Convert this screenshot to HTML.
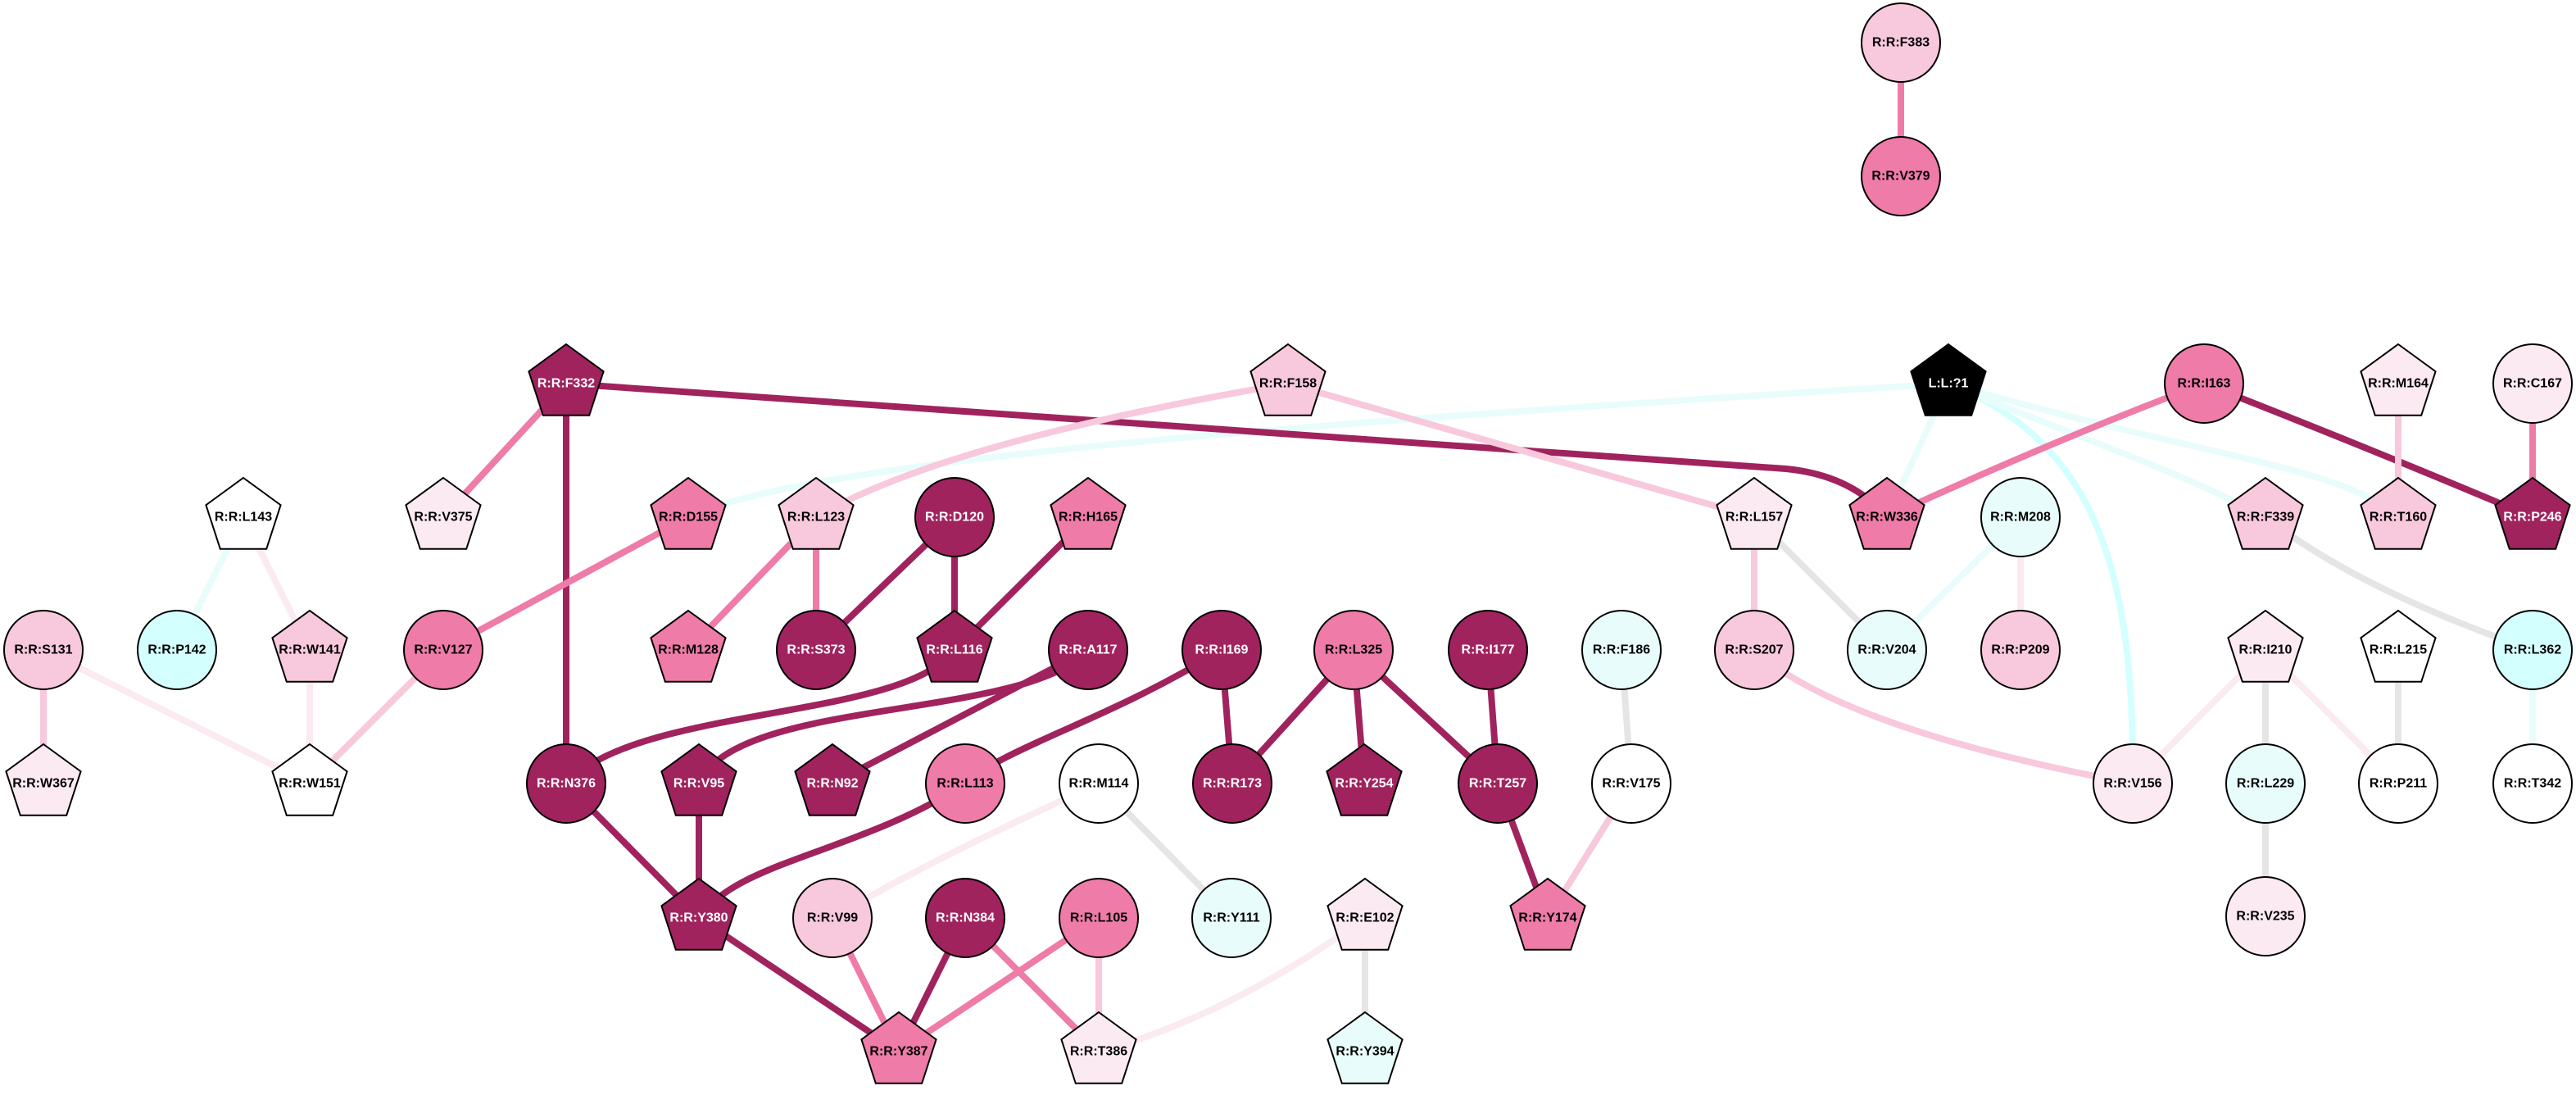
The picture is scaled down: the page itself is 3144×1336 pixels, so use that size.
<!DOCTYPE html>
<html><head><meta charset="utf-8"><style>
html,body{margin:0;padding:0;background:#fff;}
svg{display:block;}
text{font-family:"Liberation Sans",Arial,sans-serif;font-weight:bold;font-size:16px;text-anchor:middle;dominant-baseline:central;}
.w{fill:#fff;} .b{fill:#000;}
.e{fill:none;stroke-width:8;}
</style></head><body>
<svg width="3144" height="1336" viewBox="0 0 3144 1336" xmlns="http://www.w3.org/2000/svg">
<defs>
<polygon id="p" points="0,-48 45.6,-14.8 28.2,38.8 -28.2,38.8 -45.6,-14.8" stroke="#000" stroke-width="2"/>
</defs>
<!-- edges -->
<g class="edges">
<path class="e" stroke="#EF7BA8" d="M2320,52 L2320,215"/>
<!-- cyan from ligand -->
<path class="e" stroke="#E8FDFB" d="M2378,468 C1700,510 1000,555 840,631"/>
<path class="e" stroke="#E8FDFB" d="M2378,468 L2303,631"/>
<path class="e" stroke="#D4FFFF" d="M2378,468 C2560,540 2605,700 2603,956"/>
<path class="e" stroke="#E8FDFB" d="M2378,468 C2550,540 2650,570 2765,631"/>
<path class="e" stroke="#E8FDFB" d="M2378,468 C2700,560 2860,570 2927,631"/>
<path class="e" stroke="#A0235E" stroke-width="10" d="M691,468 L2180,572 Q2260,580 2303,631"/>
<path class="e" stroke="#EF7BA8" d="M691,468 L541,631"/>
<path class="e" stroke="#A0235E" d="M691,468 L691,956"/>
<path class="e" stroke="#F8C8DC" d="M1572,468 Q1150,540 996,631"/>
<path class="e" stroke="#F8C8DC" d="M1572,468 L2141,631"/>
<path class="e" stroke="#EF7BA8" d="M2690,468 Q2500,540 2303,631"/>
<path class="e" stroke="#A0235E" stroke-width="10" d="M2690,468 Q2900,550 3091,631"/>
<path class="e" stroke="#F8C8DC" d="M2927,468 L2927,631"/>
<path class="e" stroke="#EF7BA8" d="M3091,468 L3091,631"/>
<path class="e" stroke="#E8FDFB" d="M297,631 L216,793"/>
<path class="e" stroke="#FBEAF2" d="M297,631 L378,793"/>
<path class="e" stroke="#EF7BA8" d="M840,631 L541,793"/>
<path class="e" stroke="#EF7BA8" d="M996,631 L840,793"/>
<path class="e" stroke="#EF7BA8" d="M996,631 L996,793"/>
<path class="e" stroke="#A0235E" d="M1165,631 L996,793"/>
<path class="e" stroke="#A0235E" d="M1165,631 L1165,793"/>
<path class="e" stroke="#A0235E" d="M1328,631 L1165,793"/>
<path class="e" stroke="#F8C8DC" d="M2141,631 L2141,793"/>
<path class="e" stroke="#E5E5E5" d="M2141,631 L2303,793"/>
<path class="e" stroke="#E8FDFB" d="M2466,631 L2303,793"/>
<path class="e" stroke="#FBEAF2" d="M2466,631 L2466,793"/>
<path class="e" stroke="#E5E5E5" d="M2765,631 Q2880,720 3091,793"/>
<path class="e" stroke="#F8C8DC" d="M53,793 L53,956"/>
<path class="e" stroke="#FBEAF2" d="M53,793 L378,956"/>
<path class="e" stroke="#FBEAF2" d="M378,793 L378,956"/>
<path class="e" stroke="#F8C8DC" d="M541,793 L378,956"/>
<path class="e" stroke="#A0235E" stroke-width="10" d="M1165,793 C1100,880 780,860 691,956"/>
<path class="e" stroke="#A0235E" stroke-width="10" d="M1328,793 C1250,880 900,850 853,956"/>
<path class="e" stroke="#A0235E" d="M1328,793 L1016,956"/>
<path class="e" stroke="#A0235E" stroke-width="10" d="M1491,793 C1350,880 1230,910 1178,956 C1050,1040 900,1050 853,1120"/>
<path class="e" stroke="#A0235E" d="M1491,793 L1504,956"/>
<path class="e" stroke="#A0235E" d="M1652,793 L1504,956"/>
<path class="e" stroke="#A0235E" d="M1652,793 L1665,956"/>
<path class="e" stroke="#A0235E" d="M1652,793 L1828,956"/>
<path class="e" stroke="#A0235E" d="M1816,793 L1828,956"/>
<path class="e" stroke="#E5E5E5" d="M1979,793 L1991,956"/>
<path class="e" stroke="#F8C8DC" d="M1991,956 L1889,1120"/>
<path class="e" stroke="#A0235E" d="M1828,956 L1889,1120"/>
<path class="e" stroke="#F8C8DC" d="M2141,793 Q2250,890 2603,956"/>
<path class="e" stroke="#FBEAF2" d="M2765,793 L2603,956"/>
<path class="e" stroke="#E5E5E5" d="M2765,793 L2765,956"/>
<path class="e" stroke="#FBEAF2" d="M2765,793 L2927,956"/>
<path class="e" stroke="#E5E5E5" d="M2927,793 L2927,956"/>
<path class="e" stroke="#E8FDFB" d="M3091,793 L3091,956"/>
<path class="e" stroke="#E5E5E5" d="M2765,956 L2765,1118"/>
<path class="e" stroke="#A0235E" d="M691,956 L853,1120"/>
<path class="e" stroke="#A0235E" d="M853,956 L853,1120"/>
<path class="e" stroke="#A0235E" d="M853,1120 L1097,1283"/>
<path class="e" stroke="#FBEAF2" d="M1341,956 C1200,1020 1100,1070 1016,1120"/>
<path class="e" stroke="#E5E5E5" d="M1341,956 L1503,1120"/>
<path class="e" stroke="#EF7BA8" d="M1016,1120 L1097,1283"/>
<path class="e" stroke="#A0235E" d="M1178,1120 L1097,1283"/>
<path class="e" stroke="#EF7BA8" d="M1341,1120 L1097,1283"/>
<path class="e" stroke="#EF7BA8" d="M1178,1120 L1341,1283"/>
<path class="e" stroke="#F8C8DC" d="M1341,1120 L1341,1283"/>
<path class="e" stroke="#FBEAF2" d="M1666,1120 Q1500,1240 1341,1283"/>
<path class="e" stroke="#E5E5E5" d="M1666,1120 L1666,1283"/>
</g>
<!-- nodes -->
<g stroke="#000" stroke-width="2">
<circle cx="2320" cy="52" r="48" fill="#F8C8DC"/>
<circle cx="2320" cy="215" r="48" fill="#EF7BA8"/>
<use href="#p" x="691" y="468" fill="#A0235E"/>
<use href="#p" x="1572" y="468" fill="#F8C8DC"/>
<use href="#p" x="2378" y="468" fill="#000"/>
<circle cx="2690" cy="468" r="48" fill="#EF7BA8"/>
<use href="#p" x="2927" y="468" fill="#FBEAF2"/>
<circle cx="3091" cy="468" r="48" fill="#FBEAF2"/>
<use href="#p" x="297" y="631" fill="#FFFFFF"/>
<use href="#p" x="541" y="631" fill="#FBEAF2"/>
<use href="#p" x="840" y="631" fill="#EF7BA8"/>
<use href="#p" x="996" y="631" fill="#F8C8DC"/>
<circle cx="1165" cy="631" r="48" fill="#A0235E"/>
<use href="#p" x="1328" y="631" fill="#EF7BA8"/>
<use href="#p" x="2141" y="631" fill="#FBEAF2"/>
<use href="#p" x="2303" y="631" fill="#EF7BA8"/>
<circle cx="2466" cy="631" r="48" fill="#E8FDFB"/>
<use href="#p" x="2765" y="631" fill="#F8C8DC"/>
<use href="#p" x="2927" y="631" fill="#F8C8DC"/>
<use href="#p" x="3091" y="631" fill="#A0235E"/>
<circle cx="53" cy="793" r="48" fill="#F8C8DC"/>
<circle cx="216" cy="793" r="48" fill="#D4FFFF"/>
<use href="#p" x="378" y="793" fill="#F8C8DC"/>
<circle cx="541" cy="793" r="48" fill="#EF7BA8"/>
<use href="#p" x="840" y="793" fill="#EF7BA8"/>
<circle cx="996" cy="793" r="48" fill="#A0235E"/>
<use href="#p" x="1165" y="793" fill="#A0235E"/>
<circle cx="1328" cy="793" r="48" fill="#A0235E"/>
<circle cx="1491" cy="793" r="48" fill="#A0235E"/>
<circle cx="1652" cy="793" r="48" fill="#EF7BA8"/>
<circle cx="1816" cy="793" r="48" fill="#A0235E"/>
<circle cx="1979" cy="793" r="48" fill="#E8FDFB"/>
<circle cx="2141" cy="793" r="48" fill="#F8C8DC"/>
<circle cx="2303" cy="793" r="48" fill="#E8FDFB"/>
<circle cx="2466" cy="793" r="48" fill="#F8C8DC"/>
<use href="#p" x="2765" y="793" fill="#FBEAF2"/>
<use href="#p" x="2927" y="793" fill="#FFFFFF"/>
<circle cx="3091" cy="793" r="48" fill="#D4FFFF"/>
<use href="#p" x="53" y="956" fill="#FBEAF2"/>
<use href="#p" x="378" y="956" fill="#FFFFFF"/>
<circle cx="691" cy="956" r="48" fill="#A0235E"/>
<use href="#p" x="853" y="956" fill="#A0235E"/>
<use href="#p" x="1016" y="956" fill="#A0235E"/>
<circle cx="1178" cy="956" r="48" fill="#EF7BA8"/>
<circle cx="1341" cy="956" r="48" fill="#FFFFFF"/>
<circle cx="1504" cy="956" r="48" fill="#A0235E"/>
<use href="#p" x="1665" y="956" fill="#A0235E"/>
<circle cx="1828" cy="956" r="48" fill="#A0235E"/>
<circle cx="1991" cy="956" r="48" fill="#FFFFFF"/>
<circle cx="2603" cy="956" r="48" fill="#FBEAF2"/>
<circle cx="2765" cy="956" r="48" fill="#E8FDFB"/>
<circle cx="2927" cy="956" r="48" fill="#FFFFFF"/>
<circle cx="3091" cy="956" r="48" fill="#FFFFFF"/>
<use href="#p" x="853" y="1120" fill="#A0235E"/>
<circle cx="1016" cy="1120" r="48" fill="#F8C8DC"/>
<circle cx="1178" cy="1120" r="48" fill="#A0235E"/>
<circle cx="1341" cy="1120" r="48" fill="#EF7BA8"/>
<circle cx="1503" cy="1120" r="48" fill="#E8FDFB"/>
<use href="#p" x="1666" y="1120" fill="#FBEAF2"/>
<use href="#p" x="1889" y="1120" fill="#EF7BA8"/>
<circle cx="2765" cy="1118" r="48" fill="#FBEAF2"/>
<use href="#p" x="1097" y="1283" fill="#EF7BA8"/>
<use href="#p" x="1341" y="1283" fill="#FBEAF2"/>
<use href="#p" x="1666" y="1283" fill="#E8FDFB"/>
</g>
<!-- labels -->
<g>
<text class="b" x="2320" y="52">R:R:F383</text>
<text class="b" x="2320" y="215">R:R:V379</text>
<text class="w" x="691" y="468">R:R:F332</text>
<text class="b" x="1572" y="468">R:R:F158</text>
<text class="w" x="2378" y="468">L:L:?1</text>
<text class="b" x="2690" y="468">R:R:I163</text>
<text class="b" x="2927" y="468">R:R:M164</text>
<text class="b" x="3091" y="468">R:R:C167</text>
<text class="b" x="297" y="631">R:R:L143</text>
<text class="b" x="541" y="631">R:R:V375</text>
<text class="b" x="840" y="631">R:R:D155</text>
<text class="b" x="996" y="631">R:R:L123</text>
<text class="w" x="1165" y="631">R:R:D120</text>
<text class="b" x="1328" y="631">R:R:H165</text>
<text class="b" x="2141" y="631">R:R:L157</text>
<text class="b" x="2303" y="631">R:R:W336</text>
<text class="b" x="2466" y="631">R:R:M208</text>
<text class="b" x="2765" y="631">R:R:F339</text>
<text class="b" x="2927" y="631">R:R:T160</text>
<text class="w" x="3091" y="631">R:R:P246</text>
<text class="b" x="53" y="793">R:R:S131</text>
<text class="b" x="216" y="793">R:R:P142</text>
<text class="b" x="378" y="793">R:R:W141</text>
<text class="b" x="541" y="793">R:R:V127</text>
<text class="b" x="840" y="793">R:R:M128</text>
<text class="w" x="996" y="793">R:R:S373</text>
<text class="w" x="1165" y="793">R:R:L116</text>
<text class="w" x="1328" y="793">R:R:A117</text>
<text class="w" x="1491" y="793">R:R:I169</text>
<text class="b" x="1652" y="793">R:R:L325</text>
<text class="w" x="1816" y="793">R:R:I177</text>
<text class="b" x="1979" y="793">R:R:F186</text>
<text class="b" x="2141" y="793">R:R:S207</text>
<text class="b" x="2303" y="793">R:R:V204</text>
<text class="b" x="2466" y="793">R:R:P209</text>
<text class="b" x="2765" y="793">R:R:I210</text>
<text class="b" x="2927" y="793">R:R:L215</text>
<text class="b" x="3091" y="793">R:R:L362</text>
<text class="b" x="53" y="956">R:R:W367</text>
<text class="b" x="378" y="956">R:R:W151</text>
<text class="w" x="691" y="956">R:R:N376</text>
<text class="w" x="853" y="956">R:R:V95</text>
<text class="w" x="1016" y="956">R:R:N92</text>
<text class="b" x="1178" y="956">R:R:L113</text>
<text class="b" x="1341" y="956">R:R:M114</text>
<text class="w" x="1504" y="956">R:R:R173</text>
<text class="w" x="1665" y="956">R:R:Y254</text>
<text class="w" x="1828" y="956">R:R:T257</text>
<text class="b" x="1991" y="956">R:R:V175</text>
<text class="b" x="2603" y="956">R:R:V156</text>
<text class="b" x="2765" y="956">R:R:L229</text>
<text class="b" x="2927" y="956">R:R:P211</text>
<text class="b" x="3091" y="956">R:R:T342</text>
<text class="w" x="853" y="1120">R:R:Y380</text>
<text class="b" x="1016" y="1120">R:R:V99</text>
<text class="w" x="1178" y="1120">R:R:N384</text>
<text class="b" x="1341" y="1120">R:R:L105</text>
<text class="b" x="1503" y="1120">R:R:Y111</text>
<text class="b" x="1666" y="1120">R:R:E102</text>
<text class="b" x="1889" y="1120">R:R:Y174</text>
<text class="b" x="2765" y="1118">R:R:V235</text>
<text class="b" x="1097" y="1283">R:R:Y387</text>
<text class="b" x="1341" y="1283">R:R:T386</text>
<text class="b" x="1666" y="1283">R:R:Y394</text>
</g>
</svg>
</body></html>
